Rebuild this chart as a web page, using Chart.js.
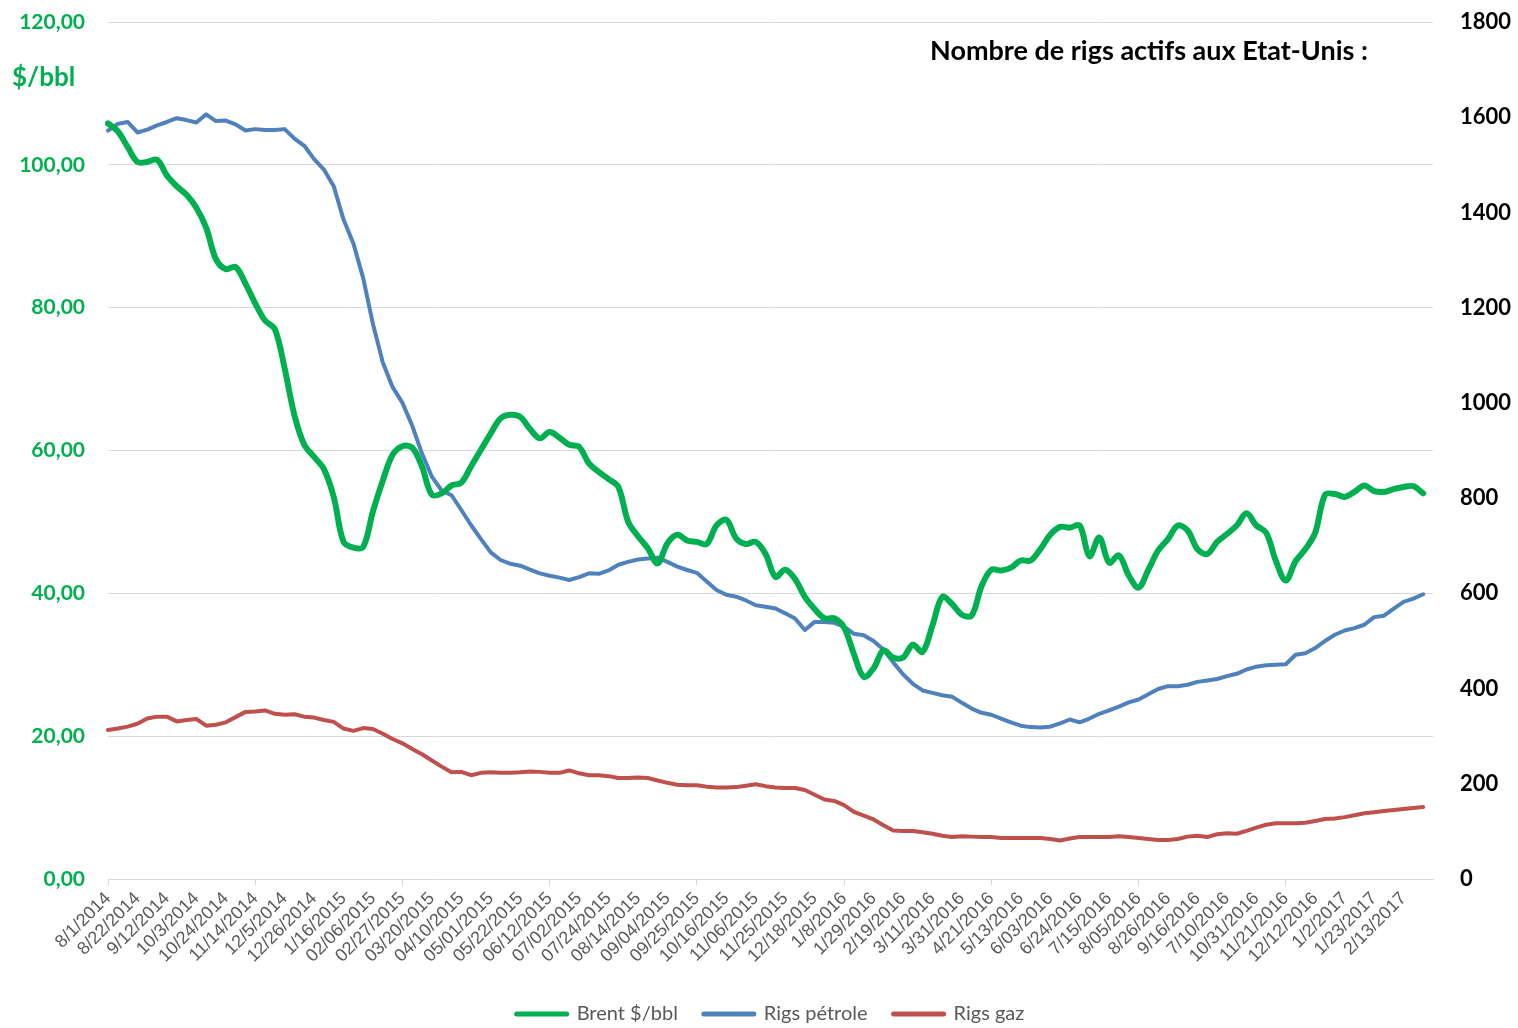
<!DOCTYPE html>
<html lang="fr">
<head>
<meta charset="utf-8">
<title>Brent et rigs actifs</title>
<script src="https://cdn.jsdelivr.net/npm/chart.js@4.4.1/dist/chart.umd.min.js"></script>
<style>
  html, body { margin: 0; padding: 0; background: #ffffff; }
  #box { width: 1518px; height: 1028px; position: relative; }
</style>
</head>
<body>
<div id="box"><canvas id="lineChart"></canvas></div>
<script>
// étiquettes de l'axe X (une toutes les 3 semaines)
var tickLabels = ['8/1/2014', '8/22/2014', '9/12/2014', '10/3/2014', '10/24/2014', '11/14/2014', '12/5/2014',
    '12/26/2014', '1/16/2015', '02/06/2015', '02/27/2015', '03/20/2015', '04/10/2015', '05/01/2015',
    '05/22/2015', '06/12/2015', '07/02/2015', '07/24/2015', '08/14/2015', '09/04/2015', '09/25/2015',
    '10/16/2015', '11/06/2015', '11/25/2015', '12/18/2015', '1/8/2016', '1/29/2016', '2/19/2016',
    '3/11/2016', '3/31/2016', '4/21/2016', '5/13/2016', '6/03/2016', '6/24/2016', '7/15/2016',
    '8/05/2016', '8/26/2016', '9/16/2016', '7/10/2016', '10/31/2016', '11/21/2016', '12/12/2016',
    '1/2/2017', '1/23/2017', '2/13/2017'];

// Brent $/bbl (hebdo)
var brent = [
    105.8, 104.7, 102.5, 100.4, 100.4, 100.7, 98.5, 97.0, 95.8, 94.0,
    91.2, 86.8, 85.4, 85.7, 83.4, 80.6, 78.2, 77.0, 71.5, 64.9,
    60.8, 59.1, 57.4, 53.5, 47.2, 46.4, 46.5, 51.5, 55.8, 59.4,
    60.6, 60.4, 57.7, 53.8, 54.0, 55.1, 55.5, 57.8, 60.1, 62.4,
    64.5, 65.0, 64.7, 63.0, 61.7, 62.6, 61.8, 60.8, 60.5, 58.2,
    57.0, 56.0, 54.9, 50.0, 48.0, 46.3, 44.2, 47.0, 48.2, 47.4,
    47.2, 46.9, 49.5, 50.3, 47.7, 46.9, 47.2, 45.5, 42.3, 43.3,
    42.0, 39.5, 37.8, 36.5, 36.5, 35.2, 31.5, 28.3, 29.5, 32.0,
    31.0, 31.0, 32.8, 31.8, 35.5, 39.5, 38.5, 37.0, 36.9, 41.0,
    43.3, 43.2, 43.6, 44.6, 44.6, 46.2, 48.2, 49.3, 49.2, 49.5,
    45.2, 47.8, 44.3, 45.3, 42.5, 40.8, 43.3, 46.0, 47.6, 49.5,
    48.8, 46.2, 45.5, 47.2, 48.3, 49.5, 51.2, 49.5, 48.5, 44.5,
    41.8, 44.5, 46.2, 48.5, 53.8, 53.9, 53.5, 54.2, 55.1, 54.3,
    54.2, 54.6, 54.9, 55.0, 54.0, 54.8];

// rigs pétrole
var rigsPetrole = [
    1572, 1586, 1590, 1568, 1574, 1583, 1590, 1598, 1594, 1589,
    1606, 1592, 1593, 1585, 1572, 1575, 1573, 1573, 1575, 1555,
    1540, 1512, 1490, 1455, 1385, 1335, 1262, 1165, 1085, 1033,
    1000, 952, 893, 845, 816, 806, 775, 743, 714, 686,
    670, 662, 658, 650, 642, 637, 633, 628, 634, 642,
    641, 648, 660, 666, 671, 673, 675, 666, 656, 649,
    643, 625, 607, 597, 593, 585, 575, 572, 568, 558,
    547, 523, 540, 540, 538, 530, 515, 512, 500, 482,
    455, 430, 410, 396, 391, 386, 383, 370, 358, 349,
    345, 337, 329, 322, 319, 318, 320, 327, 335, 329,
    337, 347, 354, 362, 371, 377, 388, 399, 405, 405,
    408, 414, 417, 420, 426, 431, 440, 446, 449, 450,
    451, 471, 474, 485, 500, 513, 522, 527, 534, 550,
    553, 568, 582, 589, 598, 613];

// rigs gaz
var rigsGaz = [
    313, 316, 320, 326, 337, 341, 341, 331, 334, 336,
    322, 324, 329, 340, 351, 352, 354, 347, 345, 346,
    341, 339, 334, 330, 316, 311, 317, 315, 305, 294,
    285, 273, 262, 249, 236, 224, 225, 218, 223, 224,
    223, 223, 224, 226, 225, 223, 223, 228, 222, 218,
    218, 216, 212, 212, 213, 212, 207, 202, 198, 197,
    197, 194, 192, 192, 193, 196, 199, 195, 192, 191,
    191, 187, 177, 167, 164, 155, 141, 133, 125, 113,
    102, 101, 101, 98, 95, 91, 88, 90, 89, 88,
    88, 86, 86, 86, 86, 86, 84, 81, 85, 88,
    88, 88, 88, 90, 88, 86, 84, 82, 82, 84,
    89, 91, 88, 94, 96, 95, 101, 108, 114, 117,
    117, 117, 118, 122, 126, 127, 130, 134, 138, 140,
    143, 145, 147, 149, 151, 143];

// catégories : une semaine par point, libellé toutes les 3 semaines
var categories = [];
for (var i = 0; i < brent.length; i++) {
    categories.push(i % 3 === 0 ? tickLabels[i / 3] : '');
}

var GREEN = '#00B050';
var BLUE = '#4F81BD';
var RED = '#C0504D';
var GRID = '#d9d9d9';

// textes libres (unité et titre)
var extraText = {
    id: 'extraText',
    afterDraw: function (chart) {
        var c = chart.ctx;
        c.save();
        c.textBaseline = 'middle';
        c.textAlign = 'left';
        c.font = 'bold 26px Lato';
        c.fillStyle = GREEN;
        c.fillText('$/bbl', 12, 78);
        c.font = 'bold 27px Lato';
        c.fillStyle = '#000000';
        c.fillText('Nombre de rigs actifs aux Etat-Unis :', 930, 51);
        c.restore();
    }
};

var ctx = document.getElementById('lineChart');
var myChart = new Chart(ctx, {
    type: 'line',
    data: {
        labels: categories,
        datasets: [
            {
                label: 'Brent $/bbl',
                data: brent,
                yAxisID: 'y',
                borderColor: GREEN,
                backgroundColor: GREEN,
                borderWidth: 6,
                borderCapStyle: 'round',
                borderJoinStyle: 'round',
                pointRadius: 0,
                tension: 0.35
            },
            {
                label: 'Rigs pétrole',
                data: rigsPetrole,
                yAxisID: 'y1',
                borderColor: BLUE,
                backgroundColor: BLUE,
                borderWidth: 4,
                borderJoinStyle: 'round',
                borderCapStyle: 'round',
                pointRadius: 0,
                tension: 0
            },
            {
                label: 'Rigs gaz',
                data: rigsGaz,
                yAxisID: 'y1',
                borderColor: RED,
                backgroundColor: RED,
                borderWidth: 4,
                borderJoinStyle: 'round',
                borderCapStyle: 'round',
                pointRadius: 0,
                tension: 0
            }
        ]
    },
    options: {
        responsive: true,
        maintainAspectRatio: false,
        animation: false,
        layout: {
            padding: { top: 22, left: 0, right: 0, bottom: -6 }
        },
        plugins: {
            title: { display: false },
            tooltip: { enabled: false },
            legend: {
                position: 'bottom',
                fullSize: false,
                labels: {
                    usePointStyle: true,
                    pointStyle: 'line',
                    pointStyleWidth: 50,
                    boxHeight: 6,
                    padding: 26,
                    color: '#595959',
                    font: { family: 'Lato', size: 20 },
                    generateLabels: function (chart) {
                        var items = Chart.defaults.plugins.legend.labels.generateLabels(chart);
                        items.forEach(function (it) {
                            it.lineWidth = 5;
                            it.lineCap = 'round';
                        });
                        return items;
                    }
                }
            }
        },
        scales: {
            x: {
                grid: {
                    drawOnChartArea: false,
                    drawTicks: true,
                    tickLength: 6,
                    color: function (c) { return c.index % 15 === 0 ? GRID : 'rgba(0,0,0,0)'; }
                },
                border: { color: GRID, width: 1 },
                ticks: {
                    autoSkip: false,
                    minRotation: 45,
                    maxRotation: 45,
                    padding: 3,
                    color: '#595959',
                    font: { family: 'Liberation Sans', size: 18 }
                },
                afterFit: function (scale) { scale.height = 99; }
            },
            y: {
                position: 'left',
                min: 0,
                max: 120,
                ticks: {
                    stepSize: 20,
                    padding: 0,
                    color: GREEN,
                    font: { family: 'Lato', size: 21, weight: 'bold' },
                    callback: function (v) { return v.toFixed(2).replace('.', ','); }
                },
                // petits traits invisibles = marge entre les libellés et le graphe
                grid: { color: GRID, drawTicks: true, tickLength: 23, tickColor: 'rgba(0,0,0,0)' },
                border: { display: false },
                afterFit: function (scale) { scale.width = 108; }
            },
            y1: {
                position: 'right',
                min: 0,
                max: 1800,
                ticks: {
                    stepSize: 200,
                    padding: 0,
                    color: '#000000',
                    font: { family: 'Lato', size: 22, weight: 'bold' },
                    callback: function (v) { return String(v); }
                },
                grid: { display: true, drawOnChartArea: false, drawTicks: true, tickLength: 27, tickColor: 'rgba(0,0,0,0)' },
                border: { display: false },
                afterFit: function (scale) { scale.width = 85; }
            }
        }
    },
    plugins: [extraText]
});
</script>
</body>
</html>
